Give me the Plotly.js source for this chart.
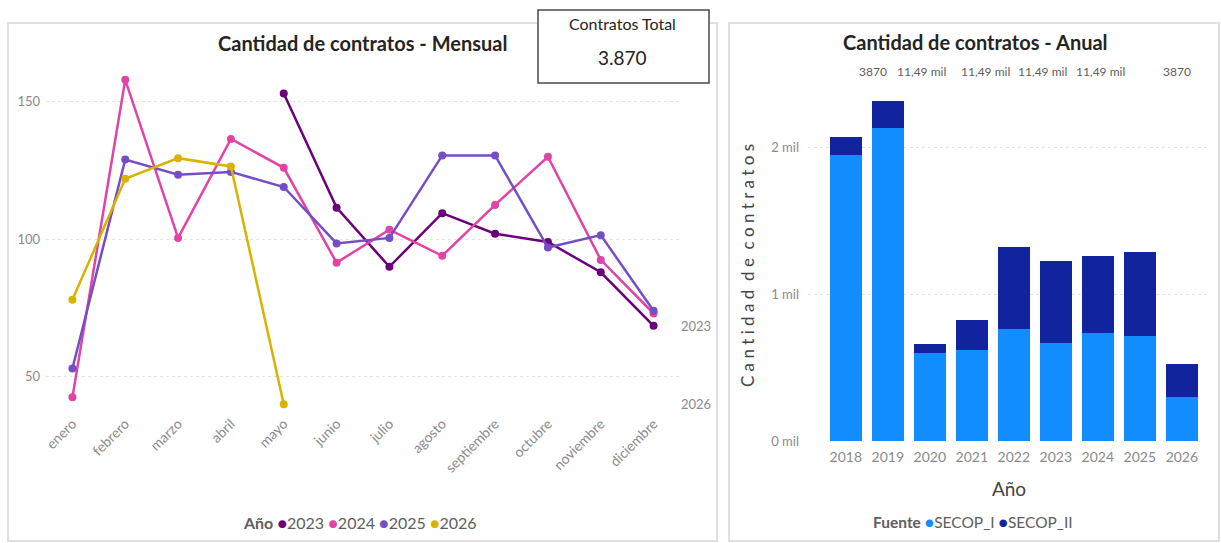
<!DOCTYPE html>
<html>
<head>
<meta charset="utf-8">
<script src="https://cdn.plot.ly/plotly-3.0.1.min.js"></script>
<style>
html,body{margin:0;padding:0;background:#fff;}
#chart{width:1221px;height:543px;}
</style>
</head>
<body>
<div id="chart"></div>
<script>
// ---- Data: monthly chart ----
const months = ["enero","febrero","marzo","abril","mayo","junio","julio","agosto","septiembre","octubre","noviembre","diciembre"];
const years = ["2023","2024","2025","2026"];
const v2023 = [null,null,null,null,153,111.5,90,109.5,102,99,88,68.5];
const v2024 = [42.5,158,100.5,136.5,126,91.5,103.5,94,112.5,130,92.5,73];
const v2025 = [53,129,123.5,124.5,119,98.5,100.5,130.5,130.5,97,101.5,74];
const v2026 = [78,122,129.5,126.5,40,null,null,null,null,null,null,null];
const yearColors = ["#6B007B","#E044A7","#744EC2","#D9B300"];
const monthlyTicks = [50,100,150];
const endLabels = ["2023","2026"];

// ---- Data: annual chart ----
const annualYears = ["2018","2019","2020","2021","2022","2023","2024","2025","2026"];
const secopI  = [1950,2135,600,620,760,665,735,715,300];
const secopII = [125,180,60,205,560,560,525,575,225];
const sources = ["SECOP_I","SECOP_II"];
const sourceColors = ["#118DFF","#12239E"];
const annualTickVals = [0,1000,2000];
const annualTickText = ["0 mil","1 mil","2 mil"];
const topLabels = ["3870","11,49 mil","11,49 mil","11,49 mil","11,49 mil","3870"];

// ---- Card ----
const cardTitle = "Contratos Total";
const cardValue = "3.870";

const W = 1221, H = 543;
const px = x => x / W;
const py = y => 1 - y / H;
const FONT = "Lato, sans-serif";

const series = [v2023, v2024, v2025, v2026];
const traces = [];
series.forEach((vals, i) => {
  traces.push({
    type: "scatter", mode: "lines+markers",
    x: months, y: vals, xaxis: "x", yaxis: "y",
    name: years[i], showlegend: false,
    connectgaps: false,
    line: {color: yearColors[i], width: 2.5},
    marker: {color: yearColors[i], size: 8}
  });
});
[secopI, secopII].forEach((vals, i) => {
  traces.push({
    type: "bar", x: annualYears, y: vals, xaxis: "x2", yaxis: "y2",
    name: sources[i], showlegend: false,
    marker: {color: sourceColors[i]}
  });
});

const lastVal = arr => { for (let k = arr.length - 1; k >= 0; k--) if (arr[k] !== null) return arr[k]; return null; };
const annotations = [];
// end-of-series labels on monthly chart
annotations.push({xref:"paper", yref:"y", x: px(679), y: lastVal(v2023), text: endLabels[0], showarrow:false, xanchor:"left", font:{family:FONT, size:13, color:"#8a8a8a"}});
annotations.push({xref:"paper", yref:"y", x: px(679), y: lastVal(v2026), text: endLabels[1], showarrow:false, xanchor:"left", font:{family:FONT, size:13, color:"#8a8a8a"}});
// titles
annotations.push({xref:"paper", yref:"paper", x: px(362), y: py(43), text:"<b>Cantidad de contratos - Mensual</b>", showarrow:false, xanchor:"center", yanchor:"middle", font:{family:FONT, size:20, color:"#252423"}});
annotations.push({xref:"paper", yref:"paper", x: px(976), y: py(42), text:"<b>Cantidad de contratos - Anual</b>", showarrow:false, xanchor:"center", yanchor:"middle", font:{family:FONT, size:20, color:"#252423"}});
// card
annotations.push({xref:"paper", yref:"paper", x: px(623), y: py(23), text: cardTitle, showarrow:false, xanchor:"center", yanchor:"middle", font:{family:FONT, size:16, color:"#252423"}});
annotations.push({xref:"paper", yref:"paper", x: px(623), y: py(58), text: cardValue, showarrow:false, xanchor:"center", yanchor:"middle", font:{family:FONT, size:19, color:"#252423"}});
// top labels on annual chart
const topX = [873, 921, 985, 1042, 1100, 1177];
topLabels.forEach((t, i) => {
  annotations.push({xref:"paper", yref:"paper", x: px(topX[i]), y: py(71), text: t, showarrow:false, xanchor:"center", yanchor:"middle", font:{family:FONT, size:12, color:"#605E5C"}});
});
// legends
const dot = c => `<span style="color:${c}">●</span>`;
const legText1 = "<b>Año</b> " + years.map((y, i) => dot(yearColors[i]) + y).join(" ");
const legText2 = "<b>Fuente</b> " + sources.map((s, i) => dot(sourceColors[i]) + s).join(" ");
annotations.push({xref:"paper", yref:"paper", x: px(360), y: py(522), text: legText1, showarrow:false, xanchor:"center", yanchor:"middle", font:{family:FONT, size:16, color:"#605E5C"}});
annotations.push({xref:"paper", yref:"paper", x: px(973), y: py(522), text: legText2, showarrow:false, xanchor:"center", yanchor:"middle", font:{family:FONT, size:15.5, color:"#605E5C"}});

const shapes = [
  {type:"rect", xref:"paper", yref:"paper", x0: px(8), x1: px(717), y0: py(541), y1: py(23), line:{color:"#d6d6d6", width:1.5}, fillcolor:"rgba(0,0,0,0)"},
  {type:"rect", xref:"paper", yref:"paper", x0: px(729), x1: px(1219), y0: py(541), y1: py(23), line:{color:"#d6d6d6", width:1.5}, fillcolor:"rgba(0,0,0,0)"},
  {type:"rect", xref:"paper", yref:"paper", x0: px(538), x1: px(709), y0: py(83), y1: py(10), line:{color:"#4a4a4a", width:1.5}, fillcolor:"#ffffff"}
];

const layout = {
  width: W, height: H,
  margin: {l:0, r:0, t:0, b:0},
  paper_bgcolor: "#fff", plot_bgcolor: "#fff",
  showlegend: false,
  barmode: "stack", bargap: 0.24,
  xaxis: {
    domain: [px(46), px(680)], anchor: "y",
    type: "category", range: [-0.5, 11.5],
    tickangle: -45, tickfont: {family:FONT, size:14, color:"#8a8a8a"},
    showgrid: false, zeroline: false, showline: false, ticks: "", ticklabelstandoff: 2
  },
  yaxis: {
    domain: [py(410), py(60)], anchor: "x",
    range: [37.9, 165.2], tickvals: monthlyTicks, tickfont: {family:FONT, size:13, color:"#8a8a8a"},
    showgrid: true, gridcolor: "#e3e3e3", griddash: "dot", gridwidth: 1,
    zeroline: false, showline: false, ticks: "", ticklabelstandoff: 5
  },
  xaxis2: {
    domain: [px(808), px(1210)], anchor: "y2",
    type: "category", range: [-0.9, 8.67],
    tickfont: {family:FONT, size:14, color:"#8a8a8a"}, showgrid: false, zeroline: false, showline: false, ticks: "",
    ticklabelstandoff: 6,
    title: {text: "Año", font: {family:FONT, size:19, color:"#444"}, standoff: 18}
  },
  yaxis2: {
    domain: [py(441), py(90)], anchor: "x2",
    range: [0, 2392], tickvals: annualTickVals, ticktext: annualTickText, tickfont: {family:FONT, size:13, color:"#8a8a8a"},
    showgrid: true, gridcolor: "#e3e3e3", griddash: "dot", gridwidth: 1,
    zeroline: false, showline: false, ticks: "", ticklabelstandoff: 8,
    title: {text: "C a n t i d a d  d e  c o n t r a t o s", font: {family:FONT, size:17, color:"#444"}, standoff: 12}
  },
  annotations: annotations,
  shapes: shapes
};

Plotly.newPlot("chart", traces, layout, {displayModeBar: false, staticPlot: true});
</script>
</body>
</html>
